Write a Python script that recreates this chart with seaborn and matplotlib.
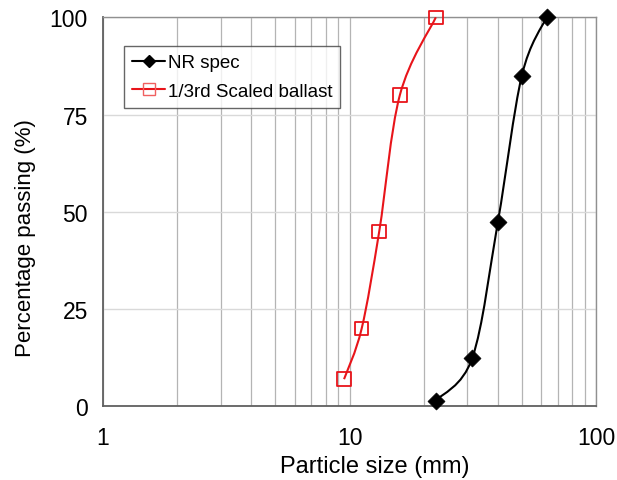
import numpy as np
import pandas as pd
import seaborn as sns
import matplotlib.pyplot as plt
from matplotlib.path import Path
from matplotlib.patches import PathPatch
from matplotlib.lines import Line2D
from matplotlib.ticker import LogLocator, NullFormatter

# sieve data
nr_size = [22.4, 31.5, 40, 50, 63]
nr_pass = [1.5, 12.5, 47.5, 85, 100]
scaled_size = [9.5, 11.2, 13.2, 16, 22.4]
scaled_pass = [7, 20, 45, 80, 100]

x_ticks = [1, 10, 100]
y_ticks = [0, 25, 50, 75, 100]

sns.set_style('white')
plt.rcParams['font.family'] = ['Liberation Sans', 'DejaVu Sans']
plt.rcParams['text.color'] = 'black'
plt.rcParams['axes.labelcolor'] = 'black'


def smooth_path(xs, ys):
    # Excel-style smoothed line: cubic bezier through the points in log-x space
    pts = np.column_stack([np.log10(xs), ys]).astype(float)
    n = len(pts)
    verts = [pts[0]]
    codes = [Path.MOVETO]
    for i in range(n - 1):
        p0 = pts[max(i - 1, 0)]
        p1 = pts[i]
        p2 = pts[i + 1]
        p3 = pts[min(i + 2, n - 1)]
        c1 = p1 + (p2 - p0) / 6.0
        c2 = p2 - (p3 - p1) / 6.0
        verts += [c1, c2, p2]
        codes += [Path.CURVE4] * 3
    verts = np.array(verts)
    verts[:, 0] = 10 ** verts[:, 0]
    return Path(verts, codes)


f = plt.figure(figsize = (6.17, 4.81), dpi = 100)
ax = f.add_axes([0.167, 0.153, 0.799, 0.809])

ax.set_xscale('log')
ax.set_xlim(1, 100)
ax.set_ylim(0, 100)

# grid
ax.xaxis.set_minor_locator(LogLocator(base = 10, subs = np.arange(2, 10)))
ax.xaxis.set_minor_formatter(NullFormatter())
ax.grid(which = 'both', axis = 'x', color = '#b4b4b4', lw = 0.9)
ax.grid(which = 'major', axis = 'y', color = '#d9d9d9', lw = 1.0)
ax.set_axisbelow(True)

# smoothed lines
ax.add_patch(PathPatch(smooth_path(nr_size, nr_pass), fill = False, edgecolor = 'black', lw = 1.5, zorder = 3))
ax.add_patch(PathPatch(smooth_path(scaled_size, scaled_pass), fill = False, edgecolor = '#e8141a', lw = 1.5, zorder = 3))

df_nr = pd.DataFrame({'size': nr_size, 'passing': nr_pass})
df_sc = pd.DataFrame({'size': scaled_size, 'passing': scaled_pass})

sns.scatterplot(x = 'size', y = 'passing', data = df_nr, ax = ax, marker = 'D', s = 75,
                color = 'black', edgecolor = 'black', linewidth = 0.5, zorder = 4, clip_on = False)
sns.scatterplot(x = 'size', y = 'passing', data = df_sc, ax = ax, marker = 's', s = 95,
                facecolor = 'none', edgecolor = '#e8141a', linewidth = 1.3, zorder = 4, clip_on = False)

ax.set_xticks(x_ticks)
ax.set_xticklabels([str(v) for v in x_ticks])
ax.set_yticks(y_ticks)
ax.set_yticklabels([str(v) for v in y_ticks])
ax.tick_params(axis = 'both', which = 'major', labelsize = 16.5, length = 6, width = 1, color = '#606060',
               labelcolor = 'black', direction = 'out', pad = 5)
ax.tick_params(axis = 'x', which = 'minor', length = 3, width = 1, color = '#606060', direction = 'in')
ax.tick_params(axis = 'x', which = 'major', pad = 8)

for s in ['top', 'right']:
    ax.spines[s].set_color('#909090')
    ax.spines[s].set_linewidth(1.0)
for s in ['left', 'bottom']:
    ax.spines[s].set_color('#606060')
    ax.spines[s].set_linewidth(1.3)

ax.set_xlabel('Particle size (mm)', fontsize = 17)
ax.set_ylabel('Percentage passing (%)', fontsize = 16)
ax.xaxis.set_label_coords(0.552, -0.125)
ax.yaxis.set_label_coords(-0.136, 0.435)

handles = [Line2D([], [], color = 'black', lw = 1.5, marker = 'D', markersize = 6),
           Line2D([], [], color = '#e8141a', lw = 1.5, marker = 's', markersize = 8,
                  markerfacecolor = 'none', markeredgecolor = '#f06060')]
leg = ax.legend(handles, ['NR spec', '1/3rd Scaled ballast'], loc = 'upper left',
                bbox_to_anchor = (0.043, 0.926), fontsize = 13.5, frameon = True, fancybox = False,
                handlelength = 1.75, handletextpad = 0.16, borderpad = 0.42, labelspacing = 0.62,
                borderaxespad = 0)
leg.get_frame().set_edgecolor('#404040')
leg.get_frame().set_linewidth(1.0)

f.savefig('out.png', dpi = 100)
